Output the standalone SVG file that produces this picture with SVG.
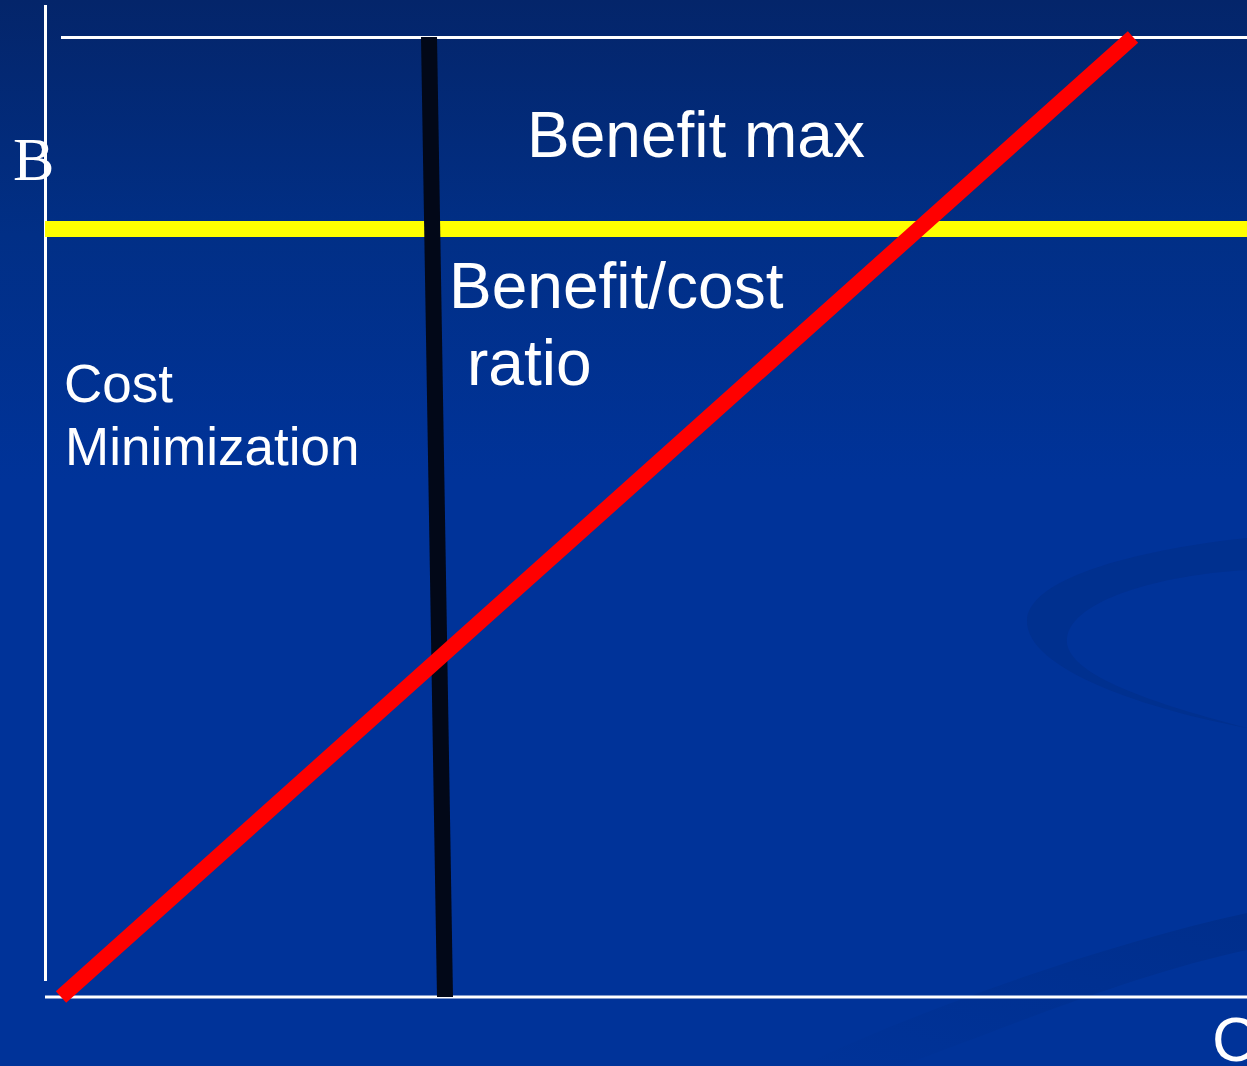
<svg xmlns="http://www.w3.org/2000/svg" width="1247" height="1066" viewBox="0 0 1247 1066">
  <defs>
    <linearGradient id="bg" x1="0" y1="0" x2="0" y2="1">
      <stop offset="0" stop-color="#04256a"/>
      <stop offset="0.22" stop-color="#012f86"/>
      <stop offset="0.45" stop-color="#003399"/>
      <stop offset="1" stop-color="#003399"/>
    </linearGradient>
    <linearGradient id="band" x1="0" y1="1" x2="1" y2="0">
      <stop offset="0" stop-color="#002c86" stop-opacity="0"/>
      <stop offset="0.5" stop-color="#002c86" stop-opacity="0.35"/>
      <stop offset="1" stop-color="#002c86" stop-opacity="0.7"/>
    </linearGradient>
    <style>
      .axis { stroke: #ffffff; stroke-width: 3; fill: none; }
      .lbl { font-family: "Liberation Sans", Arial, sans-serif; fill: #ffffff; }
      .serif { font-family: "Liberation Serif", "Times New Roman", serif; fill: #ffffff; }
    </style>
  </defs>

  <!-- slide background -->
  <rect x="0" y="0" width="1247" height="1066" fill="url(#bg)"/>
  <!-- faint decorative swooshes -->
  <path d="M1247,538 C1150,548 1030,575 1027,620 C1025,670 1150,710 1247,728 C1160,705 1062,675 1067,638 C1072,600 1160,575 1247,570 Z" fill="#00308f"/>
  <path d="M1247,913 C1100,945 920,1010 800,1066 L900,1066 C1000,1030 1130,975 1247,950 Z" fill="url(#band)"/>

  <!-- axes and frame lines -->
  <g id="axes">
    <line class="axis" x1="45.5" y1="5" x2="45.5" y2="981"/>
    <line class="axis" x1="61" y1="37.5" x2="1247" y2="37.5"/>
    <line class="axis" x1="45" y1="997" x2="1247" y2="997"/>
  </g>

  <!-- decision boundaries and cost/benefit curve -->
  <g id="connectors">
    <line id="benefit-max-line" x1="45" y1="229" x2="1247" y2="229" stroke="#ffff00" stroke-width="16"/>
    <polygon id="cost-min-line" points="421,37 437,37 453,997 437,997" fill="#020818"/>
    <line id="ratio-line" x1="61" y1="997" x2="1133" y2="37" stroke="#ff0000" stroke-width="15.5"/>
  </g>

  <g id="axis-b"><text class="serif" x="13" y="180" font-size="62">B</text></g>
  <g id="axis-c"><text class="lbl" x="1212" y="1061" font-size="63">C</text></g>

  <g id="benefit-max"><text class="lbl" x="527" y="157" font-size="64">Benefit max</text></g>
  <g id="benefit-cost-ratio">
    <text class="lbl" x="449" y="308" font-size="64">Benefit/cost</text>
    <text class="lbl" x="467" y="385" font-size="64">ratio</text>
  </g>
  <g id="cost-minimization">
    <text class="lbl" x="64" y="402" font-size="53">Cost</text>
    <text class="lbl" x="65" y="465" font-size="53">Minimization</text>
  </g>
</svg>
